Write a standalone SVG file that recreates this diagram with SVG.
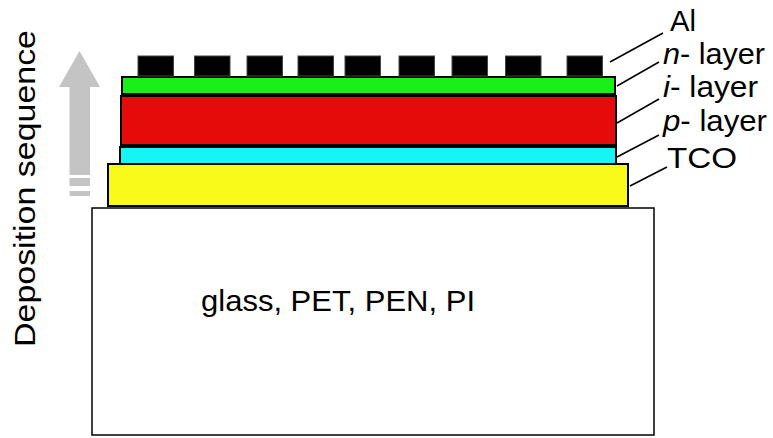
<svg xmlns="http://www.w3.org/2000/svg" width="773" height="438" viewBox="0 0 773 438">
<style>
.lyr{stroke:#000;stroke-width:2}
.pad{fill:#000;stroke:#444;stroke-width:1}
.lbl{font-family:"Liberation Sans",Arial,sans-serif;font-size:30px;fill:#000}
.lead{stroke:#000;stroke-width:1.6;fill:none}
.arw{fill:#c4c4c4}
</style>
<rect width="773" height="438" fill="#fff"/>
<g id="arrow">
<polygon class="arw" points="79.5,51 100,87 90,87 90,175 69.5,175 69.5,87 59,87"/>
<rect class="arw" x="69.5" y="178" width="20.5" height="8"/>
<rect class="arw" x="69.5" y="191" width="20.5" height="5"/>
</g>
<g id="deposition-label">
<text class="lbl" font-size="31" transform="translate(35,347) rotate(-90)" textLength="317" lengthAdjust="spacingAndGlyphs">Deposition sequence</text>
</g>
<g id="substrate">
<rect x="92" y="208" width="562" height="227" fill="#fff" stroke="#000" stroke-width="1.5"/>
<text class="lbl" x="201" y="311" font-size="31" textLength="274" lengthAdjust="spacingAndGlyphs">glass, PET, PEN, PI</text>
</g>
<g id="tco"><rect class="lyr" x="108" y="164" width="520" height="42" fill="#fafa1a"/></g>
<g id="p-layer"><rect class="lyr" x="120" y="147" width="496" height="17" fill="#16f4f4"/></g>
<g id="i-layer"><rect class="lyr" x="121" y="96" width="495" height="49" fill="#e50b0b"/></g>
<g id="n-layer"><rect class="lyr" x="122" y="77" width="493" height="17" fill="#18f018"/></g>
<g id="al-contacts">
<rect class="pad" x="138" y="56" width="35.5" height="20"/>
<rect class="pad" x="194.5" y="56" width="35.5" height="20"/>
<rect class="pad" x="247" y="56" width="35.5" height="20"/>
<rect class="pad" x="298" y="56" width="35.5" height="20"/>
<rect class="pad" x="345" y="56" width="35.5" height="20"/>
<rect class="pad" x="399" y="56" width="35.5" height="20"/>
<rect class="pad" x="452" y="56" width="35.5" height="20"/>
<rect class="pad" x="505.5" y="56" width="35.5" height="20"/>
<rect class="pad" x="567" y="56" width="35.5" height="20"/>
</g>
<g id="connectors">
<line class="lead" x1="610" y1="62" x2="663" y2="33"/>
<line class="lead" x1="617" y1="86" x2="659" y2="62"/>
<line class="lead" x1="617" y1="123" x2="659" y2="99"/>
<line class="lead" x1="617" y1="157" x2="659" y2="135"/>
<line class="lead" x1="630" y1="186" x2="667" y2="167"/>
</g>
<g id="labels">
<text class="lbl" x="670" y="31" textLength="26" lengthAdjust="spacingAndGlyphs">Al</text>
<text class="lbl" x="663" y="64" textLength="102" lengthAdjust="spacingAndGlyphs"><tspan font-style="italic">n</tspan>- layer</text>
<text class="lbl" x="663" y="97" textLength="95" lengthAdjust="spacingAndGlyphs"><tspan font-style="italic">i</tspan>- layer</text>
<text class="lbl" x="663" y="131" textLength="104" lengthAdjust="spacingAndGlyphs"><tspan font-style="italic">p</tspan>- layer</text>
<text class="lbl" x="667" y="168" textLength="70" lengthAdjust="spacingAndGlyphs">TCO</text>
</g>
</svg>
